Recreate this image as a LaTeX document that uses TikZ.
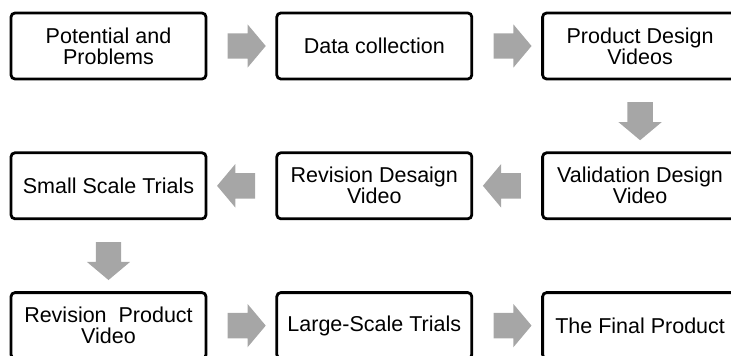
\documentclass[tikz,border=0pt]{standalone}
\usepackage{fontspec}
\setmainfont{Liberation Sans}
\usetikzlibrary{positioning,calc,shapes.arrows}
\definecolor{arrowgray}{RGB}{166,166,166}

\begin{document}
\begin{tikzpicture}[
x=1pt,y=1pt,
stepbox/.style={
  draw,
  line width=2.8pt,
  rounded corners=4pt,
  minimum width=195pt,
  minimum height=66pt,
  align=center,
  font=\fontsize{21.5}{21}\selectfont
  },
blockarrow/.style={
  single arrow,
  fill=arrowgray,
  inner xsep=0pt,
  inner ysep=12.5pt,
  minimum height=38pt,
  minimum width=43pt,
  single arrow head extend=9pt,
  single arrow tip angle=100
  },
node distance=71pt and 68pt
]
\useasboundingbox (0,0) rectangle (731,-356);
\clip (0,0) rectangle (731,-356);
\node[stepbox] (p1) at (108.5,-46) {Potential and\\Problems};
\node[stepbox,right=of p1] (p2) {Data collection};
\node[stepbox,right=of p2] (p3) {Product Design\\Videos};
\node[stepbox,below=of p3] (p4) {Validation Design\\Video};
\node[stepbox,left=of p4] (p5) {Revision Desaign\\Video};
\node[stepbox,left=of p5] (p6) {Small Scale Trials};
\node[stepbox,below=of p6] (p7) {Revision~ Product\\Video};
\node[stepbox,right=of p7] (p8) {Large-Scale Trials};
\node[stepbox,right=of p8] (p9) {The Final Product};
\foreach \a/\b/\r in {p1/p2/0,p2/p3/0,p3/p4/270,p4/p5/180,p5/p6/180,p6/p7/270,p7/p8/0,p8/p9/0}
  \node[blockarrow,rotate=\r] at ($(\a)!0.5!(\b)$) {};
\end{tikzpicture}
\end{document}
